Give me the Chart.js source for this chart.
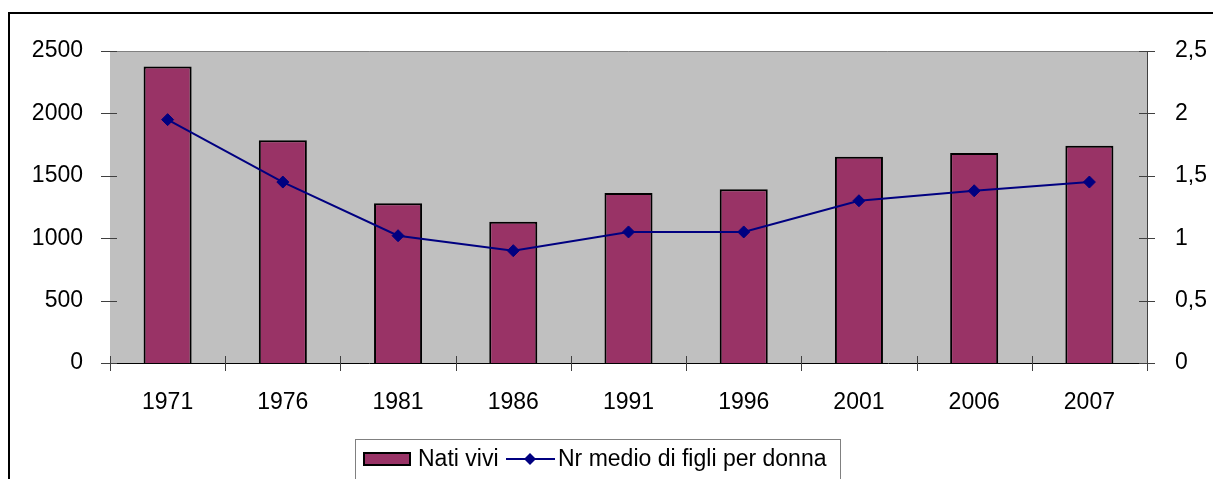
<!DOCTYPE html>
<html>
<head>
<meta charset="utf-8">
<script src="https://cdn.jsdelivr.net/npm/chart.js@4.4.0/dist/chart.umd.min.js"></script>
<style>
  html, body { margin: 0; padding: 0; background: #fff; overflow: hidden; }
  #wrap { position: relative; width: 1213px; height: 479px; }
  #frame { position: absolute; left: 8px; top: 12px; width: 1400px; height: 600px; border: 2px solid #000; pointer-events: none; }
  canvas { position: absolute; left: 0; top: 0; }
</style>
</head>
<body>
<div id="wrap">
  <canvas id="chart" width="1213" height="479"></canvas>
  <div id="frame"></div>
</div>
<script>
  const years = ['1971', '1976', '1981', '1986', '1991', '1996', '2001', '2006', '2007'];
  const natiVivi = [2375, 1784, 1280, 1132, 1362, 1392, 1653, 1683, 1741];
  const figliPerDonna = [1.95, 1.45, 1.02, 0.90, 1.05, 1.05, 1.30, 1.38, 1.45];
  const leftTicks = [0, 500, 1000, 1500, 2000, 2500];
  const rightTicks = [0, 0.5, 1, 1.5, 2, 2.5];
  const labelBar = 'Nati vivi';
  const labelLine = 'Nr medio di figli per donna';

  const FONT = '"Liberation Sans", Arial, sans-serif';
  const BAR_COLOR = '#993366';
  const LINE_COLOR = '#000080';

  const plotBg = {
    id: 'plotBg',
    beforeDatasetsDraw(chart) {
      const { ctx, chartArea: a } = chart;
      ctx.save();
      ctx.fillStyle = '#c0c0c0';
      ctx.fillRect(a.left, a.top, a.right - a.left, a.bottom - a.top);
      ctx.strokeStyle = '#808080';
      ctx.lineWidth = 1;
      ctx.beginPath();
      ctx.moveTo(a.left, a.top + 0.5);
      ctx.lineTo(a.right, a.top + 0.5);
      ctx.stroke();
      ctx.restore();
    }
  };

  // tick marks crossing the axis lines, like the spreadsheet original
  const crossTicks = {
    id: 'crossTicks',
    afterDraw(chart) {
      const { ctx, chartArea: a } = chart;
      const x = chart.scales.x, yl = chart.scales.y, yr = chart.scales.y1;
      ctx.save();
      ctx.strokeStyle = '#404040';
      ctx.lineWidth = 1;
      ctx.beginPath();
      leftTicks.forEach((v) => {
        const p = Math.round(yl.getPixelForValue(v)) + 0.5;
        ctx.moveTo(a.left - 9, p); ctx.lineTo(a.left + 7, p);
      });
      rightTicks.forEach((v) => {
        const p = Math.round(yr.getPixelForValue(v)) + 0.5;
        ctx.moveTo(a.right - 8, p); ctx.lineTo(a.right + 8, p);
      });
      for (let i = 0; i <= years.length; i++) {
        const p = Math.round(x.getPixelForValue(i - 0.5)) + 0.5;
        ctx.moveTo(p, a.bottom - 7); ctx.lineTo(p, a.bottom + 8);
      }
      ctx.stroke();
      ctx.restore();
    }
  };

  const boxLegend = {
    id: 'boxLegend',
    afterDraw(chart) {
      const ctx = chart.ctx;
      ctx.save();
      ctx.strokeStyle = '#808080';
      ctx.lineWidth = 1;
      ctx.strokeRect(355.5, 439.5, 485, 100);

      ctx.fillStyle = BAR_COLOR;
      ctx.fillRect(363, 452, 48, 14);
      ctx.strokeStyle = '#000';
      ctx.lineWidth = 2;
      ctx.strokeRect(364, 453, 46, 12);

      ctx.font = '23px ' + FONT;
      ctx.fillStyle = '#000';
      ctx.textBaseline = 'alphabetic';
      ctx.fillText(labelBar, 418, 466);

      ctx.strokeStyle = LINE_COLOR;
      ctx.lineWidth = 2;
      ctx.beginPath();
      ctx.moveTo(506, 459); ctx.lineTo(555, 459);
      ctx.stroke();
      ctx.fillStyle = LINE_COLOR;
      ctx.beginPath();
      ctx.moveTo(530, 453); ctx.lineTo(536, 459); ctx.lineTo(530, 465); ctx.lineTo(524, 459);
      ctx.closePath();
      ctx.fill();

      ctx.fillStyle = '#000';
      ctx.fillText(labelLine, 558, 466);
      ctx.restore();
    }
  };

  new Chart(document.getElementById('chart'), {
    data: {
      labels: years,
      datasets: [
        {
          type: 'line',
          label: labelLine,
          data: figliPerDonna,
          yAxisID: 'y1',
          order: 0,
          borderColor: LINE_COLOR,
          backgroundColor: LINE_COLOR,
          borderWidth: 2,
          pointStyle: 'rectRot',
          pointRadius: 6,
          pointBorderWidth: 1,
          pointBackgroundColor: LINE_COLOR,
          pointBorderColor: LINE_COLOR,
          tension: 0
        },
        {
          type: 'bar',
          label: labelBar,
          data: natiVivi,
          yAxisID: 'y',
          order: 1,
          backgroundColor: BAR_COLOR,
          borderColor: '#000',
          borderWidth: 2,
          barPercentage: 0.417,
          categoryPercentage: 1
        }
      ]
    },
    options: {
      responsive: false,
      animation: false,
      layout: { padding: { top: 51, left: 0, right: 0, bottom: 0 } },
      plugins: { legend: { display: false }, tooltip: { enabled: false } },
      scales: {
        x: {
          offset: true,
          grid: { display: false },
          border: { color: '#000', width: 1 },
          ticks: { color: '#000', font: { family: FONT, size: 23 }, padding: 18, maxRotation: 0 },
          afterFit: (s) => { s.height = 116; }
        },
        y: {
          position: 'left',
          min: 0, max: 2500,
          afterBuildTicks: (s) => { s.ticks = leftTicks.map((v) => ({ value: v })); },
          grid: { display: false },
          border: { color: '#404040', width: 1 },
          ticks: {
            color: '#000', font: { family: FONT, size: 23 }, padding: 19,
            callback: (v) => String(v)
          },
          afterFit: (s) => { s.width = 110; }
        },
        y1: {
          position: 'right',
          min: 0, max: 2.5,
          afterBuildTicks: (s) => { s.ticks = rightTicks.map((v) => ({ value: v })); },
          grid: { display: false },
          border: { color: '#404040', width: 1 },
          ticks: {
            color: '#000', font: { family: FONT, size: 23 }, padding: 20,
            callback: (v) => String(v).replace('.', ',')
          },
          afterFit: (s) => { s.width = 66; }
        }
      }
    },
    plugins: [plotBg, crossTicks, boxLegend]
  });
</script>
</body>
</html>
